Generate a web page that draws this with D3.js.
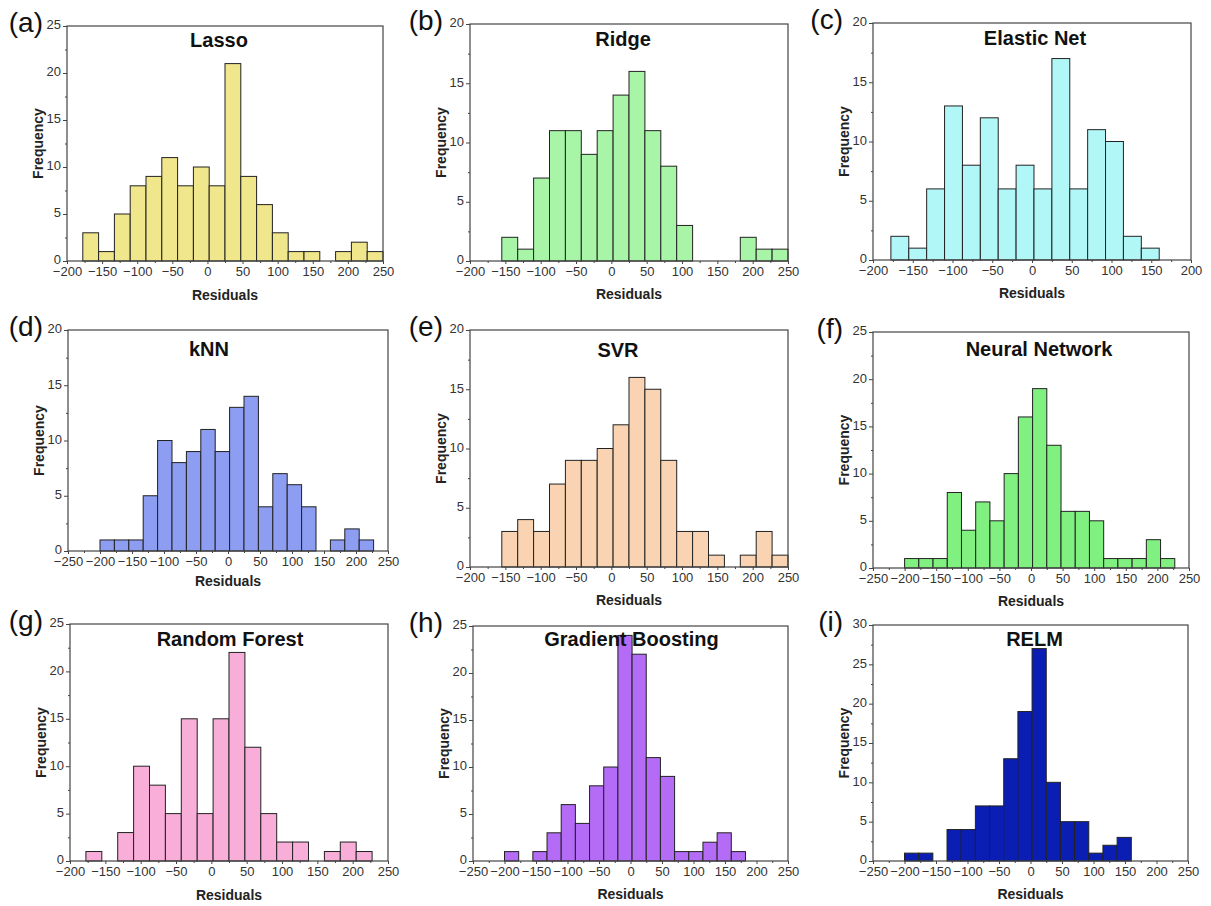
<!DOCTYPE html>
<html><head><meta charset="utf-8">
<script src="https://cdn.jsdelivr.net/npm/d3@7"></script>
<style>
body{margin:0;background:#fff}
svg{display:block;font-family:"Liberation Sans",Arial,sans-serif}
</style>
</head><body>
<svg id="chart" width="1211" height="906"></svg>
<script>
// ---- data ----
const panelLabels = ["(a)","(b)","(c)","(d)","(e)","(f)","(g)","(h)","(i)"];
const modelNames = ["Lasso","Ridge","Elastic Net","kNN","SVR","Neural Network","Random Forest","Gradient Boosting","RELM"];
const binWidth = 22.5;
const binStarts = [-177.5,-155,-177.5,-200,-155,-200,-177.5,-200,-200];
const lassoCounts = [3,1,5,8,9,11,8,10,8,21,9,6,3,1,1,0,1,2,1];
const ridgeCounts = [2,1,7,11,11,9,11,14,16,11,8,3,0,0,0,2,1,1];
const elasticNetCounts = [2,1,6,13,8,12,6,8,6,17,6,11,10,2,1];
const knnCounts = [1,1,1,5,10,8,9,11,9,13,14,4,7,6,4,0,1,2,1];
const svrCounts = [3,4,3,7,9,9,10,12,16,15,9,3,3,1,0,1,3,1];
const nnCounts = [1,1,1,8,4,7,5,10,16,19,13,6,6,5,1,1,1,3,1];
const rfCounts = [1,0,3,10,8,5,15,5,15,22,12,5,2,2,0,1,2,1];
const gbCounts = [1,0,1,3,6,4,8,10,24,22,11,9,1,1,2,3,1];
const relmCounts = [1,1,0,4,4,7,7,13,19,27,10,5,5,1,2,3];
const allCounts = [lassoCounts,ridgeCounts,elasticNetCounts,knnCounts,svrCounts,nnCounts,rfCounts,gbCounts,relmCounts];
const xMins = [-200,-200,-200,-250,-200,-250,-200,-250,-250];
const xMaxs = [250,250,200,250,250,250,250,250,250];
const yMaxs = [25,20,20,20,20,25,25,25,30];
const xTickStep = 50, yTickStep = 5;

// ---- styles / layout ----
const barColors = ["#F0E68C","#A8F5A8","#B2F7F7","#8C9DF2","#FAD4B2","#80F080","#F8AED8","#B46CF6","#0B1EB4"];
const layout = [
  {l:67, r:383, t:26, b:261, tdx:-6, tdy:21, rdy:39},
  {l:470,r:788, t:24, b:261, tdx:-6, tdy:22, rdy:38},
  {l:873,r:1191,t:23, b:260, tdx:3,  tdy:22, rdy:38},
  {l:68, r:388, t:330,b:551, tdx:-19,tdy:26, rdy:35},
  {l:470,r:788, t:330,b:567, tdx:-11,tdy:27, rdy:38},
  {l:873,r:1189,t:332,b:568, tdx:8,  tdy:24, rdy:38},
  {l:70, r:388, t:624,b:861, tdx:1,  tdy:22, rdy:39},
  {l:473,r:788, t:626,b:861, tdx:1,  tdy:20, rdy:38},
  {l:873,r:1188,t:625,b:861, tdx:4,  tdy:21, rdy:38}
];
const labelRight = [43,443,843];
const axisColor = "#444";

const svg = d3.select("#chart");

allCounts.forEach((counts, i) => {
  const L = layout[i];
  const x = d3.scaleLinear().domain([xMins[i], xMaxs[i]]).range([L.l, L.r]);
  const y = d3.scaleLinear().domain([0, yMaxs[i]]).range([L.b, L.t]);
  const g = svg.append("g");

  const bins = counts.map((c, k) => ({x0: binStarts[i] + k*binWidth, x1: binStarts[i] + (k+1)*binWidth, c}));

  // bars
  g.selectAll("rect.bar").data(bins.filter(d => d.c > 0)).join("rect")
    .attr("class","bar")
    .attr("x", d => x(d.x0))
    .attr("width", d => x(d.x1) - x(d.x0))
    .attr("y", d => y(d.c))
    .attr("height", d => y(0) - y(d.c))
    .attr("fill", barColors[i])
    .attr("stroke", "#222")
    .attr("stroke-width", 1);

  // frame
  g.append("rect")
    .attr("x", L.l).attr("y", L.t)
    .attr("width", L.r - L.l).attr("height", L.b - L.t)
    .attr("fill","none").attr("stroke", axisColor).attr("stroke-width", 1.2);

  // x axis major
  const xMajor = d3.range(xMins[i], xMaxs[i] + 1, xTickStep);
  const xMinor = d3.range(xMins[i] + xTickStep/2, xMaxs[i], xTickStep);
  const xa = g.append("g").attr("transform", `translate(0,${L.b})`)
    .call(d3.axisBottom(x).tickValues(xMajor).tickSize(3).tickPadding(3).tickFormat(d3.format("d")));
  xa.select(".domain").remove();
  xa.selectAll("line").attr("stroke", axisColor);
  xa.selectAll("text").attr("font-size", 13).attr("fill", "#333")
    .attr("font-family", '"Liberation Sans",Arial,sans-serif');
  const xm = g.append("g").attr("transform", `translate(0,${L.b})`)
    .call(d3.axisBottom(x).tickValues(xMinor).tickSize(2).tickFormat(""));
  xm.select(".domain").remove();
  xm.selectAll("line").attr("stroke", axisColor);

  // y axis
  const yMajor = d3.range(0, yMaxs[i] + 0.1, yTickStep);
  const yMinor = d3.range(yTickStep/2, yMaxs[i], yTickStep);
  const ya = g.append("g").attr("transform", `translate(${L.l},0)`)
    .call(d3.axisLeft(y).tickValues(yMajor).tickSize(4).tickPadding(2).tickFormat(d3.format("d")));
  ya.select(".domain").remove();
  ya.selectAll("line").attr("stroke", axisColor);
  ya.selectAll("text").attr("font-size", 13).attr("fill", "#333").attr("dy", "0.22em")
    .attr("font-family", '"Liberation Sans",Arial,sans-serif');
  const ym = g.append("g").attr("transform", `translate(${L.l},0)`)
    .call(d3.axisLeft(y).tickValues(yMinor).tickSize(2).tickFormat(""));
  ym.select(".domain").remove();
  ym.selectAll("line").attr("stroke", axisColor);

  // title
  g.append("text")
    .attr("x", (L.l + L.r)/2 + L.tdx).attr("y", L.t + L.tdy)
    .attr("text-anchor","middle").attr("font-weight","bold").attr("font-size", 20)
    .attr("fill","#111").text(modelNames[i]);

  // axis titles
  g.append("text")
    .attr("x", (L.l + L.r)/2).attr("y", L.b + L.rdy)
    .attr("text-anchor","middle").attr("font-weight","bold").attr("font-size", 14)
    .attr("fill","#222").text("Residuals");
  g.append("text")
    .attr("transform", `translate(${L.l - 24},${(L.t + L.b)/2}) rotate(-90)`)
    .attr("text-anchor","middle").attr("font-weight","bold").attr("font-size", 14)
    .attr("fill","#222").text("Frequency");

  // panel label
  g.append("text")
    .attr("x", labelRight[i % 3]).attr("y", L.t + 6)
    .attr("text-anchor","end").attr("font-size", 28)
    .attr("fill","#111").text(panelLabels[i]);
});
</script>
</body></html>
